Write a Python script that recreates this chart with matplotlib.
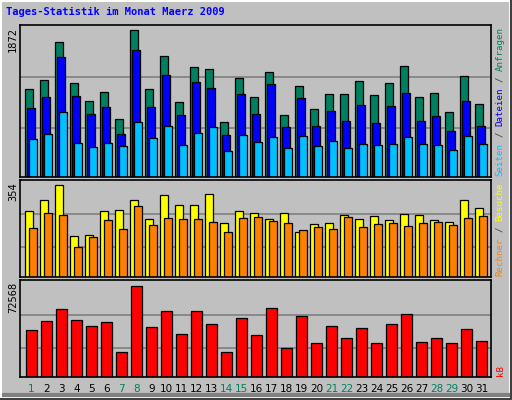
import matplotlib
matplotlib.use("Agg")
import matplotlib.pyplot as plt
from matplotlib.patches import Rectangle

days = list(range(1, 32))
weekend = [1, 7, 8, 14, 15, 21, 22, 28, 29]
anfragen = [1124,1239,1722,1201,972,1087,743,1872,1124,1545,959,1405,1379,705,1265,1023,
            1341,794,1163,870,1061,1061,1227,1048,1201,1417,1023,1074,832,1290,934]
dateien = [882,1023,1532,1035,806,895,552,1621,895,1303,794,1214,1138,539,1061,806,
           1189,641,1010,654,845,718,921,692,908,1074,718,781,590,972,654]
seiten = [488,552,832,437,386,437,399,705,501,654,412,565,641,335,539,450,
          514,373,527,399,463,373,425,412,425,514,425,412,348,527,425]
besuche = [254,296,354,158,162,254,258,296,223,316,277,277,319,208,254,246,
           223,246,173,204,208,239,223,235,219,242,239,219,212,296,266]
rechner = [189,246,239,115,154,219,185,273,200,227,223,223,212,173,227,231,
           215,208,181,193,185,231,193,204,208,196,208,212,200,227,235]
kbytes = [37608,44759,54293,45553,40786,43964,20128,72568,39991,52704,34430,52704,42375,20128,47142,33635,
          55087,23306,48731,27279,40786,31251,39197,27279,42375,50320,28073,31251,27279,38402,28868]
max_top, max_mid, max_bot = 1872, 354, 72568

W, H = 512, 400
fig = plt.figure(figsize=(W/100, H/100), dpi=100)
fig.patch.set_facecolor("#c0c0c0")
bg = fig.add_axes([0, 0, 1, 1]); bg.set_xlim(0, W); bg.set_ylim(H, 0); bg.axis("off")
bg.add_patch(Rectangle((1, 1), W-3, H-3, fill=False, ec="white", lw=1.5))
bg.plot([W-1.5, W-1.5, 1], [1, H-1.5, H-1.5], color="#404040", lw=1.5)
bg.plot([4, W-4], [395, 395], color="#808080", lw=3)

def pax(x0, y0, x1, y1):
    ax = fig.add_axes([x0/W, 1-y1/H, (x1-x0)/W, (y1-y0)/H])
    ax.set_facecolor("#c0c0c0")
    ax.set_xticks([]); ax.set_yticks([])
    for s in ax.spines.values():
        s.set_color("black"); s.set_linewidth(1.2)
    ax.set_xlim(0, x1-x0)
    return ax

LW = 0.9
ax1 = pax(20, 25, 491, 177)
ax1.set_ylim(0, max_top*152/147)
for g in (624, 1273):
    ax1.axhline(g, color="#808080", lw=1.2, zorder=0)
for i in range(31):
    b = 5 + 15*i
    ax1.bar(b, anfragen[i], width=7.5, align="edge", color="#008060", ec="black", lw=LW)
    ax1.bar(b+2.3, dateien[i], width=7.5, align="edge", color="#0000ff", ec="black", lw=LW)
    ax1.bar(b+4.3, seiten[i], width=7.5, align="edge", color="#00c0ff", ec="black", lw=LW)

ax2 = pax(20, 180, 491, 277)
ax2.set_ylim(0, max_mid*97/92)
for g in (115, 242):
    ax2.axhline(g, color="#808080", lw=1.2, zorder=0)
for i in range(31):
    b = 5 + 15*i
    ax2.bar(b+0.3, besuche[i], width=8, align="edge", color="#ffff00", ec="black", lw=LW)
    ax2.bar(b+4.3, rechner[i], width=7.5, align="edge", color="#ff8000", ec="black", lw=LW)

ax3 = pax(20, 280, 491, 377)
ax3.set_ylim(0, max_bot*97/91.3)
for g in (23300, 49500):
    ax3.axhline(g, color="#808080", lw=1.2, zorder=0)
for i in range(31):
    b = 5 + 15*i
    ax3.bar(b+1.3, kbytes[i], width=10.3, align="edge", color="#ff0000", ec="black", lw=LW)

for i, d in enumerate(days):
    bg.text(20 + 5 + 15*i + 6.5, 389, str(d), ha="center", va="center", fontsize=7.5,
            color="#008060" if d in weekend else "black")

bg.text(6, 12, "Tages-Statistik im Monat Maerz 2009", color="#0000ff", fontsize=7.5,
        fontweight="bold", family="DejaVu Sans Mono", va="center")

for txt, y in ((str(max_top), 27), (str(max_mid), 182), (str(max_bot), 282)):
    bg.text(13, y, txt, rotation=90, ha="center", va="top", fontsize=7.5, family="DejaVu Sans Mono")

FS = 6.6
CW = 0.602 * FS * 100 / 72

def right_label(parts, ybottom, x=500):
    y = ybottom
    for t, c in parts:
        st = t.strip()
        off = (len(t) - len(t.lstrip())) * CW
        bg.text(x, y - off, st, rotation=90, ha="center", va="bottom", color=c, fontsize=FS,
                family="DejaVu Sans Mono")
        y -= CW * len(t)

right_label([("Seiten", "#00c0ff"), (" / ", "#404040"), ("Dateien", "#0000ff"),
             (" / ", "#404040"), ("Anfragen", "#008060")], 176)
right_label([("Rechner", "#ff8000"), (" / ", "#404040"), ("Besuche", "#ffff00")], 276)
right_label([("kB", "#ff0000")], 376)

fig.savefig("out.png", dpi=100, facecolor=fig.get_facecolor())
